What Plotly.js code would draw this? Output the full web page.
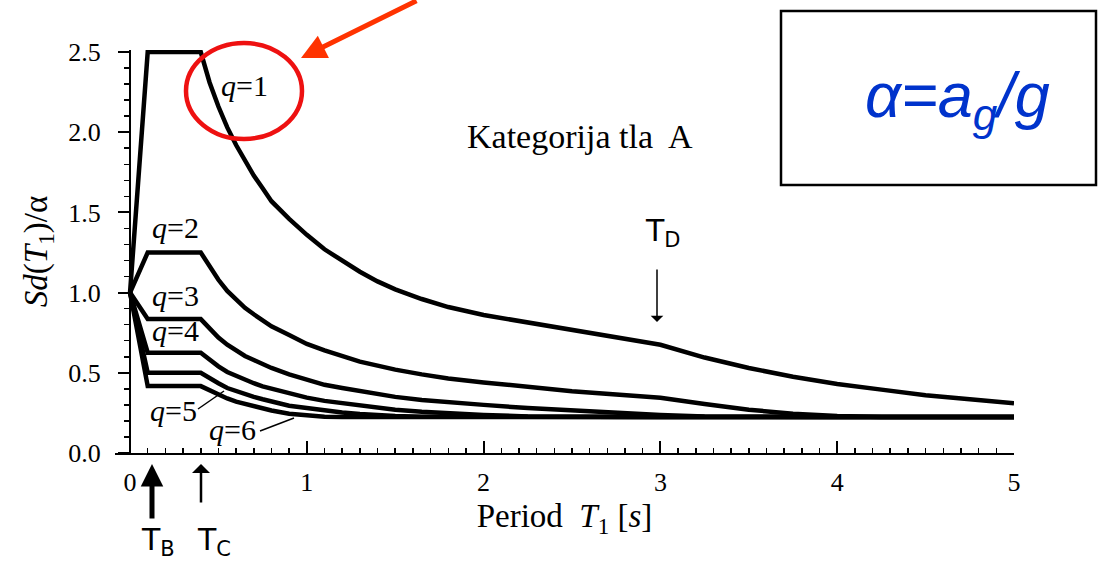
<!DOCTYPE html>
<html>
<head>
<meta charset="utf-8">
<script src="https://cdn.plot.ly/plotly-3.0.1.min.js"></script>
<style>
  html, body { margin: 0; padding: 0; background: #ffffff; }
  #chart { width: 1102px; height: 564px; }
</style>
</head>
<body>
<div id="chart"></div>
<script>
// Design spectrum Sd(T1)/α, ground category A, behaviour factors q = 1..6
const periods = [0, 0.1, 0.4, 0.45, 0.5, 0.55, 0.6, 0.65, 0.7, 0.75, 0.8, 0.9, 1.0, 1.1, 1.2, 1.3, 1.4, 1.5,
                 1.65, 1.8, 2.0, 2.25, 2.5, 2.75, 3.0, 3.25, 3.5, 3.75, 4.0, 4.25, 4.5, 4.75, 5.0];

const sdQ1 = [1.0, 2.5, 2.5, 2.31, 2.16, 2.03, 1.92, 1.82, 1.73, 1.65, 1.57, 1.46, 1.36, 1.27, 1.20, 1.13, 1.07, 1.02,
              0.96, 0.91, 0.86, 0.815, 0.765, 0.72, 0.675, 0.595, 0.53, 0.475, 0.43, 0.395, 0.36, 0.335, 0.31];
const sdQ2 = [1.0, 1.25, 1.25, 1.16, 1.08, 1.01, 0.955, 0.905, 0.865, 0.825, 0.79, 0.735, 0.68, 0.64, 0.605, 0.57, 0.545, 0.52,
              0.49, 0.465, 0.44, 0.41, 0.385, 0.365, 0.345, 0.305, 0.27, 0.245, 0.23, 0.225, 0.225, 0.225, 0.225];
const sdQ3 = [1.0, 0.835, 0.835, 0.775, 0.72, 0.675, 0.64, 0.605, 0.58, 0.555, 0.53, 0.49, 0.455, 0.425, 0.405, 0.385, 0.365, 0.35,
              0.33, 0.315, 0.30, 0.28, 0.265, 0.25, 0.237, 0.228, 0.225, 0.225, 0.225, 0.225, 0.225, 0.225, 0.225];
const sdQ4 = [1.0, 0.625, 0.625, 0.58, 0.54, 0.505, 0.48, 0.455, 0.435, 0.415, 0.40, 0.37, 0.345, 0.325, 0.31, 0.295, 0.28, 0.27,
              0.257, 0.247, 0.237, 0.228, 0.225, 0.225, 0.225, 0.225, 0.225, 0.225, 0.225, 0.225, 0.225, 0.225, 0.225];
const sdQ5 = [1.0, 0.5, 0.5, 0.465, 0.435, 0.405, 0.385, 0.365, 0.35, 0.335, 0.32, 0.295, 0.28, 0.265, 0.253, 0.243, 0.236, 0.231,
              0.226, 0.225, 0.225, 0.225, 0.225, 0.225, 0.225, 0.225, 0.225, 0.225, 0.225, 0.225, 0.225, 0.225, 0.225];
const sdQ6 = [1.0, 0.417, 0.417, 0.39, 0.36, 0.34, 0.32, 0.305, 0.29, 0.277, 0.265, 0.245, 0.232, 0.226, 0.225, 0.225, 0.225, 0.225,
              0.225, 0.225, 0.225, 0.225, 0.225, 0.225, 0.225, 0.225, 0.225, 0.225, 0.225, 0.225, 0.225, 0.225, 0.225];

const seriesValues = [sdQ1, sdQ2, sdQ3, sdQ4, sdQ5, sdQ6];
const qNames = ['q=1', 'q=2', 'q=3', 'q=4', 'q=5', 'q=6'];

const xTickVals = [0, 1, 2, 3, 4, 5];
const xTickText = ['0', '1', '2', '3', '4', '5'];
const yTickVals = [0, 0.5, 1.0, 1.5, 2.0, 2.5];
const yTickText = ['0.0', '0.5', '1.0', '1.5', '2.0', '2.5'];

const serif = 'Liberation Serif, Times New Roman, serif';
const hand = 'DejaVu Sans, sans-serif';

const traces = seriesValues.map((vals, i) => ({
  type: 'scatter',
  mode: 'lines',
  name: qNames[i],
  x: periods,
  y: vals,
  line: { color: '#000000', width: 4.5 },
  hoverinfo: 'skip'
}));

// plot area: left 115, right 1014, top 50, bottom 453 (pixels)
const L = 115, R = 1014, TOP = 50, BOT = 453;
const px = v => (v - L) / (R - L);
const py = v => (BOT - v) / (BOT - TOP);

const note = (text, x, y, font, ref) => ({
  x: x, y: y, xref: ref || 'x', yref: ref || 'y', text: text, showarrow: false,
  font: font, xanchor: 'center', yanchor: 'middle'
});
const qFont = { family: serif, size: 30, color: '#000' };
const handFont = { family: hand, size: 30, color: '#000' };

const pointer = (tipX, tipY, ax, ay, head, size, width, color) => ({
  x: px(tipX), y: py(tipY), xref: 'paper', yref: 'paper', text: '', showarrow: true,
  ax: ax, ay: ay, arrowhead: head, arrowsize: size, arrowwidth: width, arrowcolor: color
});

const layout = {
  width: 1102,
  height: 564,
  margin: { l: L, r: 1102 - R, t: TOP, b: 564 - BOT },
  paper_bgcolor: '#ffffff',
  plot_bgcolor: '#ffffff',
  showlegend: false,
  xaxis: {
    range: [-0.085, 5.0],
    showgrid: false, zeroline: false,
    showline: true, linecolor: '#000', linewidth: 2,
    ticks: 'inside', ticklen: 12, tickwidth: 2, tickcolor: '#000',
    tickmode: 'array', tickvals: xTickVals, ticktext: xTickText,
    minor: { ticks: 'inside', ticklen: 5, tickwidth: 1.5, tickcolor: '#000', dtick: 0.1, tick0: 0, showgrid: false },
    tickfont: { family: serif, size: 26, color: '#000' },
    ticklabelstandoff: 5,
    title: { text: 'Period  <i>T</i><sub>1</sub> [<i>s</i>]', font: { family: serif, size: 33, color: '#000' }, standoff: 8 }
  },
  yaxis: {
    range: [0, 2.5125],
    anchor: 'free', position: (130 - L) / (R - L),
    showgrid: false, zeroline: false,
    showline: true, linecolor: '#000', linewidth: 2,
    ticks: 'outside', ticklen: 11, tickwidth: 2, tickcolor: '#000',
    tickmode: 'array', tickvals: yTickVals, ticktext: yTickText,
    minor: { ticks: 'outside', ticklen: 5, tickwidth: 1.5, tickcolor: '#000', dtick: 0.1, tick0: 0, showgrid: false },
    tickfont: { family: serif, size: 26, color: '#000' },
    ticklabelstandoff: 12,
    title: { text: '<i>Sd</i>(<i>T</i><sub>1</sub>)/α', font: { family: serif, size: 33, color: '#000' }, standoff: 10 }
  },
  shapes: [
    // highlight ring around the q=1 branch
    { type: 'circle', xref: 'paper', yref: 'paper',
      x0: px(186), x1: px(302), y0: py(139), y1: py(43),
      line: { color: '#ee1111', width: 4.5 } },
    // framed definition box
    { type: 'rect', xref: 'paper', yref: 'paper',
      x0: px(781), x1: px(1096), y0: py(185), y1: py(11),
      line: { color: '#000', width: 2.5 }, fillcolor: 'rgba(0,0,0,0)' },
    // leaders from the q=5 and q=6 labels
    { type: 'line', xref: 'paper', yref: 'paper',
      x0: px(198), y0: py(409), x1: px(224), y1: py(391), line: { color: '#000', width: 1.5 } },
    { type: 'line', xref: 'paper', yref: 'paper',
      x0: px(260), y0: py(431), x1: px(294), y1: py(418), line: { color: '#000', width: 1.5 } }
  ],
  annotations: [
    note('<i>q</i>=1', 0.648, 2.29, qFont),
    note('<i>q</i>=2', 0.26, 1.405, qFont),
    note('<i>q</i>=3', 0.26, 0.98, qFont),
    note('<i>q</i>=4', 0.26, 0.763, qFont),
    note('<i>q</i>=5', 0.244, 0.265, qFont),
    note('<i>q</i>=6', 0.578, 0.146, qFont),
    note('Kategorija tla  A', 2.545, 1.973, { family: serif, size: 34, color: '#000' }),
    note('<i>α=a<sub>g</sub>/g</i>', px(957), py(100),
         { family: 'Liberation Sans, Arial, sans-serif', size: 63, color: '#0033cc' }, 'paper'),
    // red pointer arrow
    pointer(301, 58, 117, -62, 2, 1, 5, '#ff3300'),
    // corner periods TB, TC, TD
    pointer(152, 464, 0, 56, 2, 0.9, 5, '#000'),
    pointer(201, 464, 0, 40, 1, 1.2, 2.5, '#000'),
    pointer(657, 322, 0, -54, 1, 1.4, 1.5, '#000'),
    note('T<sub>B</sub>', px(158), py(541), handFont, 'paper'),
    note('T<sub>C</sub>', px(214), py(541), handFont, 'paper'),
    note('T<sub>D</sub>', px(663), py(233), handFont, 'paper')
  ]
};

Plotly.newPlot('chart', traces, layout, { staticPlot: true, displayModeBar: false });
</script>
</body>
</html>
